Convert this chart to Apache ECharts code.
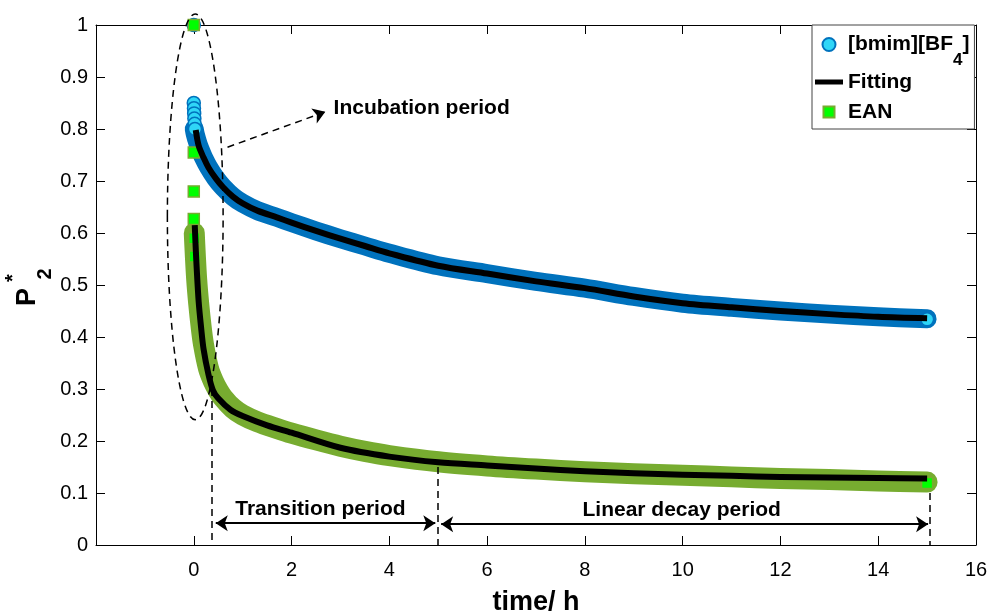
<!DOCTYPE html>
<html><head><meta charset="utf-8">
<script src="https://cdn.jsdelivr.net/npm/echarts@6/dist/echarts.min.js"></script>
<style>html,body{margin:0;padding:0;background:#fff}#c{width:989px;height:611px}</style>
</head><body><div id="c"></div>
<script>
// ---- axes ----
const xMin = -2, xMax = 16, xStep = 2;
const yMin = 0, yMax = 1, yStep = 0.1;

// ---- [bmim][BF4] : dense measured points (drawn as a band) ----
const bmimBandTime  = [0.01, 0.03, 0.06, 0.1, 0.15, 0.2, 0.3, 0.45, 0.6, 0.8, 1.0, 1.3, 1.7, 2.0, 2.5, 3.0, 3.5, 4.0, 5.0, 6.0, 7.0, 8.0, 9.0, 10.0, 11.0, 12.0, 13.0, 14.0, 15.0];
const bmimBandValue = [0.800, 0.790, 0.780, 0.768, 0.756, 0.745, 0.727, 0.705, 0.688, 0.670, 0.657, 0.643, 0.630, 0.620, 0.604, 0.589, 0.575, 0.561, 0.537, 0.522, 0.507, 0.494, 0.478, 0.465, 0.457, 0.450, 0.444, 0.439, 0.435];
// individually visible markers
const bmimMarkTime  = [0, 0, 0.004, 0.008, 0.012, 0.018, 0.024, 15];
const bmimMarkValue = [1.0, 0.850, 0.840, 0.830, 0.820, 0.810, 0.800, 0.434];
// fitting
const bmimFitTime  = [0.04, 0.1, 0.2, 0.3, 0.45, 0.6, 0.8, 1.0, 1.3, 1.7, 2.0, 2.5, 3.0, 3.5, 4.0, 5.0, 6.0, 7.0, 8.0, 9.0, 10.0, 11.0, 12.0, 13.0, 14.0, 15.0];
const bmimFitValue = [0.798, 0.768, 0.745, 0.726, 0.705, 0.688, 0.670, 0.657, 0.643, 0.630, 0.620, 0.604, 0.589, 0.575, 0.561, 0.537, 0.522, 0.507, 0.494, 0.478, 0.465, 0.457, 0.450, 0.444, 0.439, 0.436];

// ---- EAN ----
const eanBandTime  = [0.01, 0.03, 0.06, 0.1, 0.15, 0.2, 0.3, 0.4, 0.5, 0.6, 0.8, 1.0, 1.3, 1.7, 2.0, 2.5, 3.0, 3.5, 4.0, 5.0, 6.0, 7.0, 8.0, 9.0, 10.0, 11.0, 12.0, 13.0, 14.0, 15.0];
const eanBandValue = [0.600, 0.560, 0.510, 0.465, 0.420, 0.385, 0.340, 0.315, 0.297, 0.283, 0.263, 0.250, 0.237, 0.224, 0.215, 0.202, 0.190, 0.180, 0.172, 0.160, 0.152, 0.146, 0.141, 0.137, 0.134, 0.131, 0.128, 0.126, 0.123, 0.121];
const eanMarkTime  = [0, 0, 0, 0, 0.01, 0.02, 15];
const eanMarkValue = [1.0, 0.755, 0.680, 0.627, 0.590, 0.555, 0.119];
const eanFitTime  = [0.02, 0.05, 0.1, 0.15, 0.2, 0.3, 0.39, 0.5, 0.75, 1.0, 1.5, 2.0, 3.0, 4.0, 5.0, 6.0, 7.0, 8.0, 9.0, 10.0, 11.0, 12.0, 13.0, 14.0, 15.0];
const eanFitValue = [0.615, 0.550, 0.468, 0.418, 0.377, 0.328, 0.298, 0.282, 0.260, 0.248, 0.230, 0.216, 0.187, 0.170, 0.159, 0.153, 0.147, 0.142, 0.138, 0.135, 0.133, 0.131, 0.130, 0.129, 0.128];

// ---- annotations (data units) ----
const ellipseCenter = [0.03, 0.631];
const ellipseRadius = [0.57, 0.39];
const incubationArrow = [[0.69, 0.765], [2.69, 0.833]];
const dividerLines = [[[0.37, 0.30], [0.37, 0]], [[5.0, 0.15], [5.0, 0]], [[15.05, 0.10], [15.05, 0]]];
const periodArrows = [[[0.45, 0.042], [4.94, 0.042]], [[5.06, 0.04], [15.02, 0.04]]];
const annotationTexts = [
  { text: 'Incubation period', at: [2.86, 0.84], align: 'left' },
  { text: 'Transition period', at: [2.59, 0.069], align: 'center' },
  { text: 'Linear decay period', at: [9.98, 0.067], align: 'center' }
];

const FONT = '"Liberation Sans", Arial, sans-serif';
const zip = (a, b) => a.map((v, i) => [v, b[i]]);

const chart = echarts.init(document.getElementById('c'), null, { renderer: 'canvas' });

const axisCommon = {
  type: 'value',
  axisLine: { show: true, onZero: false, lineStyle: { color: '#000', width: 1 } },
  axisTick: { show: true, inside: true, length: 9, lineStyle: { color: '#000', width: 1 } },
  splitLine: { show: false }
};

const smoothOpt = { smooth: 0.3 };

const option = {
  backgroundColor: '#fff',
  animation: false,
  grid: { left: 96, right: 13, top: 25, bottom: 66, containLabel: false, outerBoundsMode: 'none' },
  xAxis: [
    Object.assign({}, axisCommon, {
      min: xMin, max: xMax, interval: xStep, position: 'bottom',
      name: 'time/ h', nameLocation: 'middle', nameGap: 44,
      nameTextStyle: { fontFamily: FONT, fontSize: 27, fontWeight: 'bold', color: '#000' },
      axisLabel: { color: '#000', fontFamily: FONT, fontSize: 20, margin: 15,
        formatter: v => (v === xMin ? '' : String(v)) }
    }),
    Object.assign({}, axisCommon, {
      min: xMin, max: xMax, interval: xStep, position: 'top', axisLabel: { show: false }
    })
  ],
  yAxis: [
    Object.assign({}, axisCommon, {
      min: yMin, max: yMax, interval: yStep, position: 'left',
      axisLabel: { color: '#000', fontFamily: FONT, fontSize: 20, margin: 8 }
    }),
    Object.assign({}, axisCommon, {
      min: yMin, max: yMax, interval: yStep, position: 'right', axisLabel: { show: false }
    })
  ],
  legend: {
    data: [
      { name: '[bmim][BF4]', icon: 'circle' },
      { name: 'Fitting', icon: 'path://M0,0h28v5h-28z' },
      { name: 'EAN', icon: 'path://M-1,-1M12,12M0,0h11v11h-11z',
        textStyle: { fontFamily: FONT, fontSize: 21, fontWeight: 'bold', color: '#000', lineHeight: 34 } }
    ],
    orient: 'vertical',
    left: 812, top: 25,
    padding: [9, 5, 0, 3],
    itemGap: 0,
    itemWidth: 28, itemHeight: 13,
    symbolKeepAspect: true,
    backgroundColor: '#fff',
    borderColor: '#444', borderWidth: 1,
    selectedMode: false,
    z: 10,
    textStyle: {
      fontFamily: FONT, fontSize: 21, fontWeight: 'bold', color: '#000', lineHeight: 26,
      rich: {
        m: { fontFamily: FONT, fontSize: 21, fontWeight: 'bold', color: '#000', lineHeight: 21, verticalAlign: 'top' },
        s: { fontFamily: FONT, fontSize: 17, fontWeight: 'bold', color: '#000', lineHeight: 17, verticalAlign: 'top', padding: [18, 0, 0, 0] }
      }
    },
    formatter: name => name === '[bmim][BF4]' ? '{m|[bmim][BF}{s|4}{m|]}' : name
  },
  series: [
    Object.assign({ name: 'bmimBand', type: 'line', data: zip(bmimBandTime, bmimBandValue), symbol: 'none', silent: true,
      lineStyle: { color: '#0072BD', width: 19, cap: 'round', join: 'round' }, z: 2 }, smoothOpt),
    { name: '[bmim][BF4]', type: 'scatter', data: zip(bmimMarkTime, bmimMarkValue), symbol: 'circle', symbolSize: 13,
      itemStyle: { color: '#2FD6F7', borderColor: '#0072BD', borderWidth: 1.5, opacity: 1 }, z: 3 },
    Object.assign({ name: 'eanBand', type: 'line', data: zip(eanBandTime, eanBandValue), symbol: 'none', silent: true,
      lineStyle: { color: '#77AC30', width: 21, cap: 'round', join: 'round' }, z: 2 }, smoothOpt),
    { name: 'EAN', type: 'scatter', data: zip(eanMarkTime, eanMarkValue), symbol: 'rect', symbolSize: 11,
      itemStyle: { color: '#00FF00', borderColor: '#77AC30', borderWidth: 1.5, opacity: 1 }, z: 4 },
    Object.assign({ name: 'Fitting', type: 'line', data: zip(bmimFitTime, bmimFitValue), symbol: 'none',
      lineStyle: { color: '#000', width: 6, cap: 'butt', join: 'round' }, itemStyle: { color: '#000' }, z: 5 }, smoothOpt),
    Object.assign({ name: 'Fitting', type: 'line', data: zip(eanFitTime, eanFitValue), symbol: 'none',
      lineStyle: { color: '#000', width: 6, cap: 'butt', join: 'round' }, itemStyle: { color: '#000' }, z: 5 }, smoothOpt),
    { name: 'dividers', type: 'lines', coordinateSystem: 'cartesian2d', silent: true, clip: false, z: 6,
      data: dividerLines.map(c => ({ coords: c })), symbol: ['none', 'none'],
      lineStyle: { color: '#000', width: 1.5, type: [7, 5], opacity: 1 } },
    { name: 'incubationArrow', type: 'lines', coordinateSystem: 'cartesian2d', silent: true, clip: false, z: 6,
      data: [{ coords: incubationArrow }], symbol: ['none', 'arrow'], symbolSize: 12,
      lineStyle: { color: '#000', width: 1.5, type: [7, 5], opacity: 1 } },
    { name: 'periodArrows', type: 'lines', coordinateSystem: 'cartesian2d', silent: true, clip: false, z: 6,
      data: periodArrows.map(c => ({ coords: c })), symbol: ['arrow', 'arrow'], symbolSize: 12,
      lineStyle: { color: '#000', width: 2, opacity: 1 } }
  ]
};

chart.setOption(option);

// annotations positioned through the chart's own scales
const px = p => chart.convertToPixel({ gridIndex: 0 }, p);
const c = px(ellipseCenter);
const rx = px([ellipseCenter[0] + ellipseRadius[0], ellipseCenter[1]])[0] - c[0];
const ry = c[1] - px([ellipseCenter[0], ellipseCenter[1] + ellipseRadius[1]])[1];

const graphics = [
  { type: 'ellipse', shape: { cx: c[0], cy: c[1], rx: rx, ry: ry }, z: 100, silent: true,
    style: { fill: null, stroke: '#000', lineWidth: 1.5, lineDash: [7, 5] } }
];
annotationTexts.forEach(t => {
  const p = px(t.at);
  graphics.push({ type: 'text', x: p[0], y: p[1], z: 100, silent: true,
    style: { text: t.text, font: 'bold 21px ' + FONT, fill: '#000', align: t.align, verticalAlign: 'middle' } });
});
// y-axis title P*_2 (rotated)
graphics.push(
  { type: 'text', x: 28, y: 297, rotation: Math.PI / 2, z: 100, silent: true,
    style: { text: 'P', font: 'bold 27px ' + FONT, fill: '#000', align: 'center', verticalAlign: 'middle' } },
  { type: 'text', x: 13, y: 278, rotation: Math.PI / 2, z: 100, silent: true,
    style: { text: '*', font: 'bold 20px ' + FONT, fill: '#000', align: 'center', verticalAlign: 'middle' } },
  { type: 'text', x: 45, y: 274, rotation: Math.PI / 2, z: 100, silent: true,
    style: { text: '2', font: 'bold 20px ' + FONT, fill: '#000', align: 'center', verticalAlign: 'middle' } }
);
chart.setOption({ graphic: graphics });
</script>
</body></html>
